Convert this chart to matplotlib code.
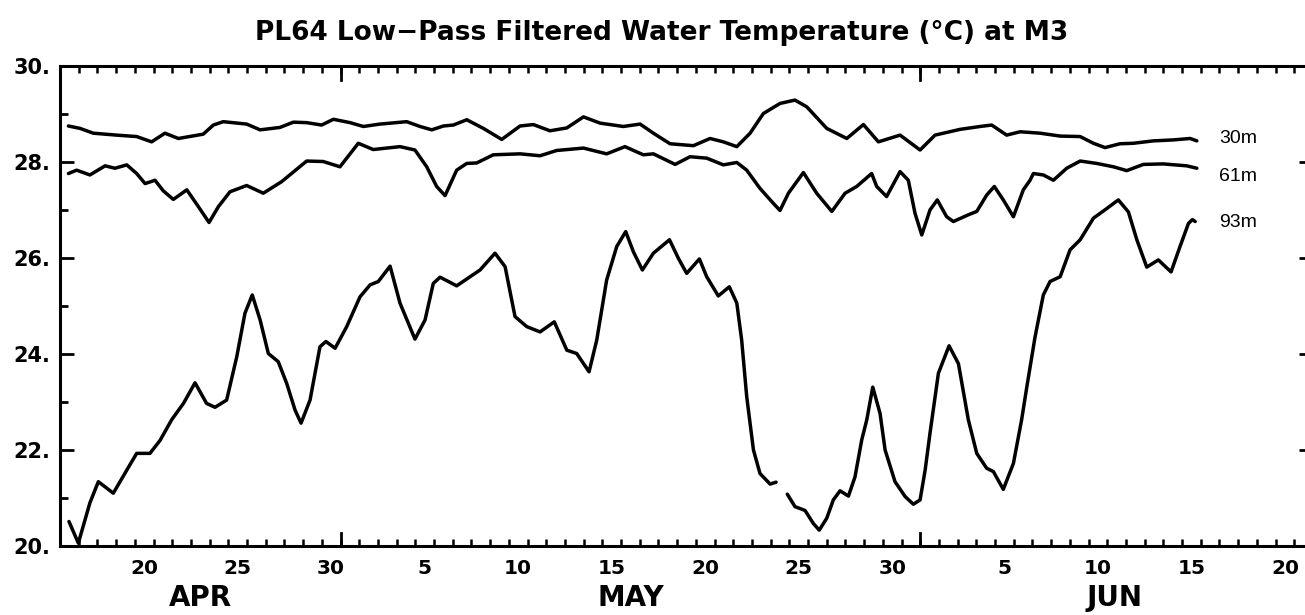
import numpy as np
import matplotlib
matplotlib.use("Agg")
import matplotlib.pyplot as plt
from matplotlib.ticker import MultipleLocator, FormatStrFormatter

# time axis: days since 1 Apr 00:00
t30 = [15.45, 16.07, 16.78, 18.03, 19.10, 19.90, 20.61, 21.33, 22.66, 23.20,
       23.73, 24.98, 25.70, 26.76, 27.48, 28.19, 28.99, 29.62, 30.51, 31.22,
       32.11, 33.54, 34.25, 34.88, 35.50, 36.03, 36.75, 37.64, 38.62, 39.60,
       40.31, 41.20, 42.10, 42.99, 43.88, 45.12, 46.02, 46.73, 47.62, 48.87,
       49.76, 50.47, 51.19, 51.90, 52.61, 53.50, 54.30, 54.93, 56.00, 57.07,
       57.96, 58.76, 59.92, 60.99, 61.79, 63.13, 64.20, 64.82, 65.62, 66.34,
       67.41, 68.48, 69.55, 70.26, 70.88, 71.68, 72.39, 73.46, 74.53, 75.43,
       75.79]
v30 = [28.75, 28.70, 28.60, 28.56, 28.53, 28.42, 28.60, 28.49, 28.58, 28.77,
       28.84, 28.79, 28.67, 28.72, 28.83, 28.82, 28.77, 28.89, 28.82, 28.74,
       28.79, 28.84, 28.74, 28.67, 28.75, 28.77, 28.88, 28.70, 28.47, 28.75,
       28.78, 28.65, 28.71, 28.94, 28.81, 28.74, 28.79, 28.60, 28.38, 28.34,
       28.49, 28.42, 28.32, 28.60, 29.01, 29.22, 29.29, 29.15, 28.70, 28.49,
       28.78, 28.42, 28.56, 28.25, 28.56, 28.68, 28.74, 28.77, 28.56, 28.63,
       28.60, 28.54, 28.53, 28.39, 28.30, 28.38, 28.39, 28.44, 28.46, 28.49,
       28.44]

t61 = [15.45, 15.89, 16.60, 17.41, 17.94, 18.57, 19.10, 19.55, 20.08, 20.52,
       21.06, 21.78, 22.40, 22.97, 23.47, 24.09, 24.98, 25.87, 26.85, 28.19,
       29.08, 29.97, 30.95, 31.75, 33.18, 33.98, 34.61, 35.14, 35.59, 36.21,
       36.75, 37.28, 38.17, 39.60, 40.67, 41.56, 42.99, 44.23, 45.21, 46.19,
       46.73, 47.89, 48.69, 49.58, 50.47, 51.19, 51.72, 52.43, 53.14, 53.50,
       53.95, 54.75, 55.46, 56.27, 56.98, 57.60, 58.40, 58.67, 59.20, 59.92,
       60.36, 60.72, 61.08, 61.52, 61.91, 62.41, 62.77, 63.57, 64.02, 64.55,
       64.96, 65.44, 65.98, 66.51, 66.87, 67.05, 67.58, 68.12, 68.83, 69.55,
       70.44, 71.33, 72.04, 72.93, 74.00, 75.25, 75.79]
v61 = [27.76, 27.83, 27.73, 27.92, 27.87, 27.94, 27.76, 27.55, 27.62, 27.40,
       27.22, 27.42, 27.07, 26.74, 27.07, 27.38, 27.51, 27.35, 27.59, 28.02,
       28.01, 27.90, 28.39, 28.26, 28.32, 28.25, 27.90, 27.49, 27.30, 27.83,
       27.97, 27.98, 28.15, 28.17, 28.13, 28.24, 28.29, 28.17, 28.32, 28.15,
       28.17, 27.95, 28.11, 28.08, 27.94, 27.99, 27.83, 27.45, 27.14, 26.99,
       27.35, 27.78, 27.35, 26.97, 27.35, 27.49, 27.76, 27.49, 27.28, 27.80,
       27.62, 26.93, 26.48, 27.00, 27.21, 26.86, 26.76, 26.90, 26.97, 27.31,
       27.49, 27.21, 26.86, 27.42, 27.62, 27.76, 27.73, 27.62, 27.87, 28.02,
       27.97, 27.90, 27.82, 27.95, 27.96, 27.92, 27.87]

# 93m record has a short data gap around 24 May (nan)
t93 = [15.48, 15.98, 16.60, 17.05, 17.85, 18.57, 19.10, 19.81, 20.35, 20.97,
       21.60, 22.22, 22.84, 23.29, 23.91, 24.45, 24.89, 25.28, 25.70, 26.14,
       26.67, 27.12, 27.57, 27.89, 28.37, 28.90, 29.22, 29.71, 30.33, 31.04,
       31.58, 32.02, 32.65, 33.18, 33.98, 34.52, 34.96, 35.32, 35.77, 36.21,
       37.46, 38.26, 38.80, 39.33, 39.96, 40.67, 41.43, 42.10, 42.63, 43.29,
       43.70, 44.23, 44.77, 45.25, 45.66, 46.14, 46.73, 47.59, 48.07, 48.51,
       49.19, 49.58, 50.20, 50.79, 51.19, 51.45, 51.72, 52.08, 52.43, 52.97,
       53.29, 53.60, 53.89, 54.30, 54.84, 55.28, 55.60, 56.00, 56.35, 56.71,
       57.16, 57.51, 57.87, 58.14, 58.46, 58.85, 59.12, 59.65, 60.19, 60.63,
       60.99, 61.26, 61.52, 61.97, 62.54, 63.04, 63.57, 64.02, 64.55, 64.91,
       65.44, 65.98, 66.42, 66.70, 67.14, 67.58, 67.94, 68.48, 69.01, 69.55,
       70.26, 70.97, 71.59, 72.13, 72.58, 73.11, 73.73, 74.41, 74.89, 75.34,
       75.55, 75.70]
v93 = [20.51, 20.06, 20.90, 21.34, 21.10, 21.58, 21.93, 21.93, 22.20, 22.63,
       22.97, 23.40, 22.97, 22.89, 23.04, 23.94, 24.85, 25.23, 24.71, 24.01,
       23.84, 23.39, 22.83, 22.56, 23.04, 24.15, 24.26, 24.12, 24.57, 25.19,
       25.44, 25.51, 25.83, 25.06, 24.31, 24.71, 25.47, 25.60, 25.51, 25.42,
       25.75, 26.10, 25.82, 24.78, 24.57, 24.46, 24.67, 24.08, 24.01, 23.63,
       24.29, 25.54, 26.24, 26.55, 26.13, 25.75, 26.10, 26.38, 25.99, 25.68,
       25.98, 25.61, 25.21, 25.40, 25.06, 24.29, 23.11, 22.00, 21.51, 21.29,
       21.33, np.nan, 21.08, 20.82, 20.74, 20.47, 20.33, 20.58, 20.96, 21.15,
       21.04, 21.44, 22.21, 22.63, 23.31, 22.76, 22.00, 21.34, 21.03, 20.87,
       20.96, 21.58, 22.35, 23.60, 24.17, 23.80, 22.63, 21.93, 21.62, 21.55,
       21.18, 21.72, 22.63, 23.32, 24.36, 25.23, 25.51, 25.61, 26.17, 26.38,
       26.83, 27.03, 27.21, 26.96, 26.38, 25.81, 25.96, 25.71, 26.24, 26.72,
       26.80, 26.76]

# day labels (placed at noon) and month boundaries
day_pos = [19.5, 24.5, 29.5, 34.5, 39.5, 44.5, 49.5, 54.5, 59.5, 65.5, 70.5, 75.5, 80.5]
day_lab = ['20', '25', '30', '5', '10', '15', '20', '25', '30', '5', '10', '15', '20']
month_start = [30, 61]
month_pos = [22.5, 45.5, 71.4]
month_lab = ['APR', 'MAY', 'JUN']

series = [(t30, v30, '30m', 28.48), (t61, v61, '61m', 27.69), (t93, v93, '93m', 26.73)]

fig = plt.figure(figsize=(13.05, 6.15), dpi=100)
ax = fig.add_axes([60/1305, 69/615, 1253/1305, 480/615])

for t, v, name, ly in series:
    ax.plot(t, v, color='black', lw=2.5, solid_joinstyle='round', solid_capstyle='round')
    ax.text(77.0, ly, name, fontsize=14, va='center', ha='left', family='Liberation Sans')

ax.set_xlim(15, 82)
ax.set_ylim(20, 30)

for s in ax.spines.values():
    s.set_linewidth(2.2)

ax.yaxis.set_major_locator(MultipleLocator(2))
ax.yaxis.set_minor_locator(MultipleLocator(1))
ax.yaxis.set_major_formatter(FormatStrFormatter('%d.'))
ax.tick_params(axis='y', which='major', direction='in', length=10, width=2,
               right=True, pad=7, labelsize=15)
ax.tick_params(axis='y', which='minor', direction='in', length=5.5, width=2, right=True)
for lab in ax.get_yticklabels():
    lab.set_fontweight('bold')

ax.set_xticks(day_pos)
ax.set_xticklabels(day_lab, fontweight='bold', fontsize=14.5)
ax.xaxis.set_minor_locator(MultipleLocator(1))
ax.tick_params(axis='x', which='major', length=0, pad=9)
ax.tick_params(axis='x', which='minor', direction='in', length=5, width=1.8, top=True)

for m in month_start:
    ax.axvline(m, ymin=0, ymax=13/480, color='black', lw=2)
    ax.axvline(m, ymin=1 - 14/480, ymax=1, color='black', lw=2)

for x, lab in zip(month_pos, month_lab):
    ax.text(x, -0.108, lab, transform=ax.get_xaxis_transform(), ha='center', va='center',
            fontsize=20, fontweight='bold')

fig.text(662/1305, 1 - 33/615, 'PL64 Low\u2212Pass Filtered Water Temperature (\u00b0C) at M3',
         ha='center', va='center', fontsize=19, fontweight='bold')

fig.savefig('out.png', dpi=100)
